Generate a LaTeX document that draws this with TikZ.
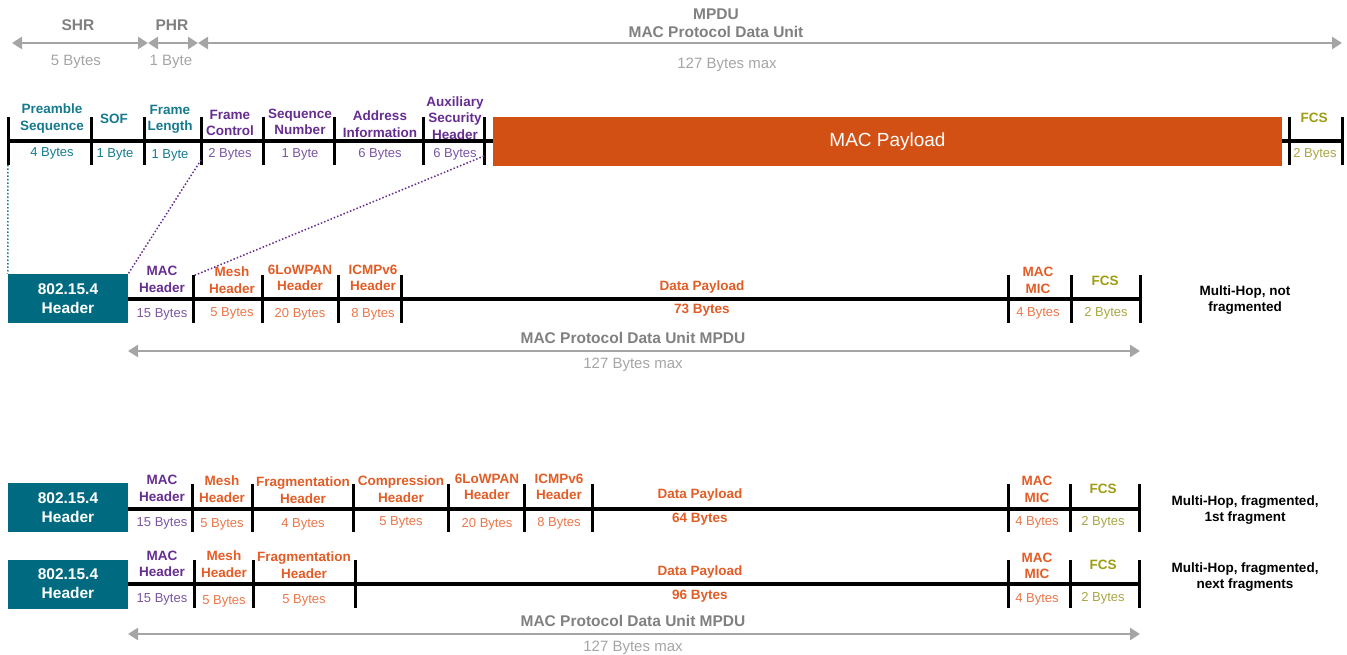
\documentclass[tikz,border=0pt]{standalone}
\usepackage{fontspec}
\setmainfont{Liberation Sans}
\definecolor{lanteal}{RGB}{0,107,128}
\definecolor{lantealtxt}{RGB}{22,122,142}
\definecolor{lanpurple}{RGB}{102,45,145}
\definecolor{lanpurplelt}{RGB}{122,85,162}
\definecolor{lanorange}{RGB}{211,80,20}
\definecolor{lanorangetxt}{RGB}{226,92,38}
\definecolor{lanorangelt}{RGB}{234,118,72}
\definecolor{lanolive}{RGB}{158,156,18}
\definecolor{lanolivelt}{RGB}{168,166,68}
\definecolor{langray}{RGB}{128,128,128}
\definecolor{langraylt}{RGB}{165,165,165}
\usetikzlibrary{arrows.meta}

\begin{document}
\begin{tikzpicture}[
  x=1pt, y=-1pt,
  lbl/.style={font=\bfseries\fontsize{13.5}{16.5}\selectfont, align=center, inner sep=0pt, yshift=-1.5pt},
  cnt/.style={font=\fontsize{13}{16}\selectfont, inner sep=0pt, yshift=-1.5pt},
  size/.style={font=\bfseries\fontsize{15.5}{18}\selectfont, align=center, inner sep=0pt, text=langray, yshift=-1pt},
  sizeN/.style={font=\fontsize{15}{18}\selectfont, inner sep=0pt, text=langraylt, yshift=-2pt},
  hdr/.style={rectangle, fill=lanteal, minimum width=120pt, minimum height=49pt, text=white, font=\bfseries\fontsize{15.5}{19}\selectfont, align=center, inner sep=0pt},
  bar/.style={line width=4pt},
  sep/.style={line width=3pt},
  dim/.style={{Triangle[length=10pt,width=12pt]}-{Triangle[length=10pt,width=12pt]}, line width=2.5pt, langraylt},
  link/.style={dotted, line width=1.5pt}
]
  \useasboundingbox (0,0) rectangle (1347,655);

  % PHY frame sizes
  \coordinate (s0) at (12,43);
  \coordinate (s1) at (148,43);
  \coordinate (s2) at (198,43);
  \coordinate (s3) at (1342,43);
  \draw[dim] (s0) -- (s1);
  \draw[dim] (s1) -- (s2);
  \draw[dim] (s2) -- (s3);
  \node[size] (shr) at (78,24) {SHR};
  \node[sizeN] (shrN) at (76,60) {5 Bytes};
  \node[size] (phr) at (172,24) {PHR};
  \node[sizeN] (phrN) at (171,60) {1 Byte};
  \node[size] (mpdu) at (716,22) {MPDU\\MAC Protocol Data Unit};
  \node[sizeN] (mpduN) at (727,63) {127 Bytes max};

  % PHY frame
  \draw[bar] (8,141) -- (1342,141);
  \foreach \x in {8,91,144,201,263,334,423,484,1289,1342}
    \draw[sep] (\x,117) -- (\x,165);
  \node[rectangle, fill=lanorange, minimum width=789pt, minimum height=49pt, text=white, font=\fontsize{19}{23}\selectfont] (pay) at (887.5,141.5) {MAC Payload};
  \node[lbl, text=lantealtxt] (pre) at (52,117) {Preamble\\Sequence};
  \node[cnt, text=lantealtxt] (preN) at (52,152) {4 Bytes};
  \node[lbl, text=lantealtxt] (sof) at (114,117) {SOF};
  \node[cnt, text=lantealtxt] (sofN) at (115,153) {1 Byte};
  \node[lbl, text=lantealtxt] (flen) at (170,118) {Frame\\Length};
  \node[cnt, text=lantealtxt] (flenN) at (170,154) {1 Byte};
  \node[lbl, text=lanpurple] (fctl) at (230,121.5) {Frame\\Control};
  \node[cnt, text=lanpurplelt] (fctlN) at (230,153) {2 Bytes};
  \node[lbl, text=lanpurple] (seq) at (300,120.5) {Sequence\\Number};
  \node[cnt, text=lanpurplelt] (seqN) at (300,153) {1 Byte};
  \node[lbl, text=lanpurple] (addr) at (380,122.5) {Address\\Information};
  \node[cnt, text=lanpurplelt] (addrN) at (380,153) {6 Bytes};
  \node[lbl, text=lanpurple] (aux) at (455,116.5) {Auxiliary\\Security\\Header};
  \node[cnt, text=lanpurplelt] (auxN) at (455,153) {6 Bytes};
  \node[lbl, text=lanolive] (fcs) at (1314,116) {FCS};
  \node[cnt, text=lanolivelt] (fcsN) at (1315,153) {2 Bytes};

  % multi-hop, not fragmented
  \node[hdr] (hdrA) at (68,298.5) {802.15.4\\Header};
  \draw[bar] (hdrA.east |- 0,299) -- (1140,299);
  \foreach \x in {193,262,338,401,1008,1071,1140}
    \draw[sep] (\x,275) -- (\x,323);
  \node[lbl, text=lanpurple] (macA) at (162,278) {MAC\\Header};
  \node[cnt, text=lanpurplelt] (macAN) at (162,313) {15 Bytes};
  \node[lbl, text=lanorangetxt] (meshA) at (232,278.5) {Mesh\\Header};
  \node[cnt, text=lanorangelt] (meshAN) at (232,312) {5 Bytes};
  \node[lbl, text=lanorangetxt] (lowA) at (300,276.5) {6LoWPAN\\Header};
  \node[cnt, text=lanorangelt] (lowAN) at (300,313) {20 Bytes};
  \node[lbl, text=lanorangetxt] (icmpA) at (373,276.5) {ICMPv6\\Header};
  \node[cnt, text=lanorangelt] (icmpAN) at (373,313) {8 Bytes};
  \node[lbl, text=lanorangetxt] (dataA) at (702,286) {Data Payload};
  \node[lbl, text=lanorangetxt] (dataAN) at (702,309) {73 Bytes};
  \node[lbl, text=lanorangetxt] (micA) at (1038,279) {MAC\\MIC};
  \node[cnt, text=lanorangelt] (micAN) at (1038,312) {4 Bytes};
  \node[lbl, text=lanolive] (fcsA) at (1105,279) {FCS};
  \node[cnt, text=lanolivelt] (fcsAN) at (1106,312) {2 Bytes};
  \node[lbl] (caseA) at (1245,298.5) {Multi-Hop, not\\fragmented};
  \coordinate (mA0) at (128,351);
  \coordinate (mA1) at (1140,351);
  \draw[dim] (mA0) -- (mA1);
  \node[size] (mpduA) at (633,337) {MAC Protocol Data Unit MPDU};
  \node[sizeN] (mpduAN) at (633,363) {127 Bytes max};

  % where the header fields go
  \coordinate (preBot) at (8,165);
  \coordinate (fctlBot) at (201,160);
  \coordinate (auxBot) at (484,156);
  \coordinate (macTop) at (193,276);
  \draw[link, lantealtxt] (preBot) -- (hdrA.north west);
  \draw[link, lanpurple] (fctlBot) -- (hdrA.north east);
  \draw[link, lanpurple] (auxBot) -- (macTop);

  % fragmented, 1st fragment
  \node[hdr] (hdrB) at (68,507.5) {802.15.4\\Header};
  \draw[bar] (hdrB.east |- 0,509) -- (1139,509);
  \foreach \x in {192,252,353,448,524,592,1008,1070,1139}
    \draw[sep] (\x,484) -- (\x,532);
  \node[lbl, text=lanpurple] (macB) at (162,487) {MAC\\Header};
  \node[cnt, text=lanpurplelt] (macBN) at (162,522) {15 Bytes};
  \node[lbl, text=lanorangetxt] (meshB) at (222,487.5) {Mesh\\Header};
  \node[cnt, text=lanorangelt] (meshBN) at (222,523) {5 Bytes};
  \node[lbl, text=lanorangetxt] (fragB) at (303,488.5) {Fragmentation\\Header};
  \node[cnt, text=lanorangelt] (fragBN) at (303,523) {4 Bytes};
  \node[lbl, text=lanorangetxt] (compB) at (401,487.5) {Compression\\Header};
  \node[cnt, text=lanorangelt] (compBN) at (401,521) {5 Bytes};
  \node[lbl, text=lanorangetxt] (lowB) at (487,485.5) {6LoWPAN\\Header};
  \node[cnt, text=lanorangelt] (lowBN) at (487,523) {20 Bytes};
  \node[lbl, text=lanorangetxt] (icmpB) at (559,485.5) {ICMPv6\\Header};
  \node[cnt, text=lanorangelt] (icmpBN) at (559,522) {8 Bytes};
  \node[lbl, text=lanorangetxt] (dataB) at (700,494) {Data Payload};
  \node[lbl, text=lanorangetxt] (dataBN) at (700,518) {64 Bytes};
  \node[lbl, text=lanorangetxt] (micB) at (1037,488) {MAC\\MIC};
  \node[cnt, text=lanorangelt] (micBN) at (1037,521) {4 Bytes};
  \node[lbl, text=lanolive] (fcsB) at (1103,487) {FCS};
  \node[cnt, text=lanolivelt] (fcsBN) at (1103,521) {2 Bytes};
  \node[lbl] (caseB) at (1245,508.5) {Multi-Hop, fragmented,\\1st fragment};

  % fragmented, next fragments
  \node[hdr] (hdrC) at (68,584) {802.15.4\\Header};
  \draw[bar] (hdrC.east |- 0,584) -- (1139,584);
  \foreach \x in {194,253,355,1008,1070,1139}
    \draw[sep] (\x,560) -- (\x,608);
  \node[lbl, text=lanpurple] (macC) at (162,562.5) {MAC\\Header};
  \node[cnt, text=lanpurplelt] (macCN) at (162,598) {15 Bytes};
  \node[lbl, text=lanorangetxt] (meshC) at (224,562.5) {Mesh\\Header};
  \node[cnt, text=lanorangelt] (meshCN) at (224,600) {5 Bytes};
  \node[lbl, text=lanorangetxt] (fragC) at (304,563.5) {Fragmentation\\Header};
  \node[cnt, text=lanorangelt] (fragCN) at (304,599) {5 Bytes};
  \node[lbl, text=lanorangetxt] (dataC) at (700,571) {Data Payload};
  \node[lbl, text=lanorangetxt] (dataCN) at (700,595) {96 Bytes};
  \node[lbl, text=lanorangetxt] (micC) at (1037,564.5) {MAC\\MIC};
  \node[cnt, text=lanorangelt] (micCN) at (1037,598) {4 Bytes};
  \node[lbl, text=lanolive] (fcsC) at (1103,563) {FCS};
  \node[cnt, text=lanolivelt] (fcsCN) at (1103,597) {2 Bytes};
  \node[lbl] (caseC) at (1245,575.5) {Multi-Hop, fragmented,\\next fragments};
  \coordinate (mC0) at (128,634);
  \coordinate (mC1) at (1140,634);
  \draw[dim] (mC0) -- (mC1);
  \node[size] (mpduC) at (633,620) {MAC Protocol Data Unit MPDU};
  \node[sizeN] (mpduCN) at (633,646) {127 Bytes max};
\end{tikzpicture}
\end{document}
